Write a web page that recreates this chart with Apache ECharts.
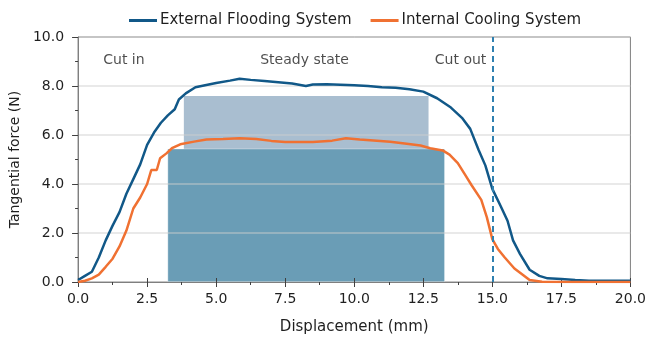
<!DOCTYPE html>
<html><head><meta charset="utf-8">
<script src="https://cdn.jsdelivr.net/npm/echarts@6/dist/echarts.min.js"></script>
<style>html,body{margin:0;padding:0;background:#fff}#c{width:649px;height:341px}</style>
</head><body><div id="c"></div>
<script>
// External Flooding System
const extDisp  = [0, 0.25, 0.5, 0.75, 1.0, 1.25, 1.5, 1.75, 2.0, 2.25, 2.5, 2.75, 3.0, 3.25, 3.5, 3.65, 3.9, 4.25, 4.6, 5.0, 5.5, 5.85, 6.25, 6.75, 7.25, 7.75, 8.25, 8.5, 9.0, 9.5, 10.0, 10.5, 11.0, 11.5, 12.0, 12.5, 13.0, 13.5, 13.9, 14.2, 14.5, 14.75, 15.0, 15.3, 15.55, 15.75, 16.0, 16.35, 16.7, 17.0, 17.5, 18.0, 18.5, 20.0];
const extForce = [0.08, 0.25, 0.42, 1.0, 1.7, 2.3, 2.85, 3.6, 4.2, 4.8, 5.6, 6.1, 6.5, 6.8, 7.05, 7.45, 7.7, 7.95, 8.03, 8.12, 8.22, 8.3, 8.25, 8.2, 8.15, 8.1, 8.0, 8.06, 8.07, 8.05, 8.03, 8.0, 7.95, 7.93, 7.87, 7.77, 7.5, 7.12, 6.7, 6.25, 5.4, 4.75, 3.8, 3.1, 2.5, 1.7, 1.15, 0.5, 0.25, 0.15, 0.12, 0.08, 0.05, 0.05];
// Internal Cooling System
const intDisp  = [0, 0.25, 0.5, 0.75, 1.0, 1.25, 1.5, 1.75, 2.0, 2.25, 2.5, 2.65, 2.85, 2.97, 3.2, 3.4, 3.7, 4.2, 4.65, 5.25, 5.85, 6.45, 7.0, 7.5, 8.5, 9.2, 9.7, 10.2, 10.7, 11.3, 11.9, 12.4, 12.75, 13.2, 13.45, 13.75, 14.0, 14.25, 14.6, 14.8, 15.0, 15.2, 15.45, 15.8, 16.1, 16.35, 16.8, 17.5, 20.0];
const intForce = [0.0, 0.05, 0.15, 0.3, 0.62, 0.95, 1.45, 2.1, 3.0, 3.45, 4.0, 4.57, 4.57, 5.05, 5.25, 5.46, 5.62, 5.73, 5.82, 5.84, 5.87, 5.84, 5.76, 5.71, 5.71, 5.77, 5.87, 5.82, 5.78, 5.72, 5.64, 5.57, 5.46, 5.37, 5.2, 4.85, 4.4, 3.95, 3.35, 2.65, 1.75, 1.35, 1.0, 0.55, 0.3, 0.08, 0.01, 0.0, 0.0];
// Steady-state blocks: [start, end, force]
const steadyExt = [3.83, 12.69, 7.59];
const steadyInt = [3.25, 13.27, 5.43];
const cutOutAt = 15;
const annotationNames = ['Cut in', 'Steady state', 'Cut out'];
const annotationX = [1.66, 8.2, 13.85];
const annotationY = [9.06, 9.06, 9.06];

const FONT = 'DejaVu Sans';
const TXT = '#1f1f1f';
const zip = (a, b) => a.map((v, i) => [v, b[i]]);

function rectItem(params, api) {
  const x0 = api.value(0), x1 = api.value(1), y = api.value(2);
  const p0 = api.coord([x0, y]);
  const p1 = api.coord([x1, 0]);
  return {
    type: 'rect',
    shape: { x: p0[0], y: p0[1], width: p1[0] - p0[0], height: p1[1] - p0[1] },
    style: api.style()
  };
}

const chart = echarts.init(document.getElementById('c'), null, { renderer: 'canvas' });
chart.setOption({
  animation: false,
  backgroundColor: '#fff',
  textStyle: { fontFamily: FONT },
  grid: { left: 78, right: 18, top: 37, bottom: 59, show: true, borderColor: '#7f7f7f', borderWidth: 1 },
  legend: {
    top: 8, left: 124, itemWidth: 28, itemHeight: 3, itemGap: 19, icon: 'rect',
    data: ['External Flooding System', 'Internal Cooling System'],
    textStyle: { fontFamily: FONT, fontSize: 15, color: TXT, padding: [0, 0, 0, -2] }
  },
  xAxis: [{
    type: 'value', min: 0, max: 20, interval: 2.5, z: 1,
    name: 'Displacement (mm)', nameLocation: 'middle', nameGap: 38,
    nameTextStyle: { fontFamily: FONT, fontSize: 15, color: TXT },
    axisLine: { show: true, lineStyle: { color: '#7f7f7f', width: 1 } },
    axisTick: { show: true, length: 5, lineStyle: { color: '#404040' } },
    minorTick: { show: true, splitNumber: 2, length: 3, lineStyle: { color: '#404040' } },
    axisLabel: { fontFamily: FONT, fontSize: 14, color: TXT, margin: 10, formatter: v => v.toFixed(1) },
    splitLine: { show: false }
  }, {
    type: 'value', min: 0, max: 20, interval: 2.5, position: 'bottom', z: 1,
    axisLine: { show: false },
    axisTick: { show: true, inside: true, length: 4, lineStyle: { color: '#404040' } },
    axisLabel: { show: false },
    splitLine: { show: false }
  }],
  yAxis: {
    type: 'value', min: 0, max: 10, interval: 2, z: 1,
    name: 'Tangential force (N)', nameLocation: 'middle', nameGap: 53,
    nameTextStyle: { fontFamily: FONT, fontSize: 14, color: TXT },
    axisLine: { show: true, lineStyle: { color: '#7f7f7f', width: 1 } },
    axisTick: { show: true, length: 6, lineStyle: { color: '#404040' } },
    minorTick: { show: true, splitNumber: 2, length: 3, lineStyle: { color: '#404040' } },
    axisLabel: { fontFamily: FONT, fontSize: 14, color: TXT, margin: 14, formatter: v => v.toFixed(1) },
    splitLine: { show: true, lineStyle: { color: 'rgba(205,205,205,0.6)', width: 1.5 } }
  },
  series: [
    {
      type: 'custom', name: 'steadyExt', z: 0.5, renderItem: rectItem, silent: true,
      encode: { x: [0, 1], y: 2 },
      itemStyle: { color: '#a9bed0' },
      data: [steadyExt]
    },
    {
      type: 'custom', name: 'steadyInt', z: 0.6, renderItem: rectItem, silent: true,
      encode: { x: [0, 1], y: 2 },
      itemStyle: { color: '#6a9db6', borderColor: 'rgba(255,255,255,0.35)', borderWidth: 1 },
      data: [steadyInt]
    },
    {
      type: 'line', name: 'External Flooding System', symbol: 'none', z: 3,
      lineStyle: { color: '#115888', width: 2.5 }, itemStyle: { color: '#115888' },
      data: zip(extDisp, extForce),
      markLine: {
        silent: true, symbol: ['none', 'none'], label: { show: false },
        lineStyle: { color: '#2f80b0', width: 2, type: [6, 4] },
        data: [{ xAxis: cutOutAt }]
      }
    },
    {
      type: 'line', name: 'Internal Cooling System', symbol: 'none', z: 3,
      lineStyle: { color: '#f07132', width: 2.5 }, itemStyle: { color: '#f07132' },
      data: zip(intDisp, intForce)
    },
    {
      type: 'scatter', name: 'annotations', symbolSize: 0, silent: true, z: 4,
      label: { show: true, position: 'inside', formatter: p => p.name, fontFamily: FONT, fontSize: 14, color: TXT },
      data: annotationNames.map((n, i) => ({ name: n, value: [annotationX[i], annotationY[i]] }))
    }
  ]
});
</script></body></html>
